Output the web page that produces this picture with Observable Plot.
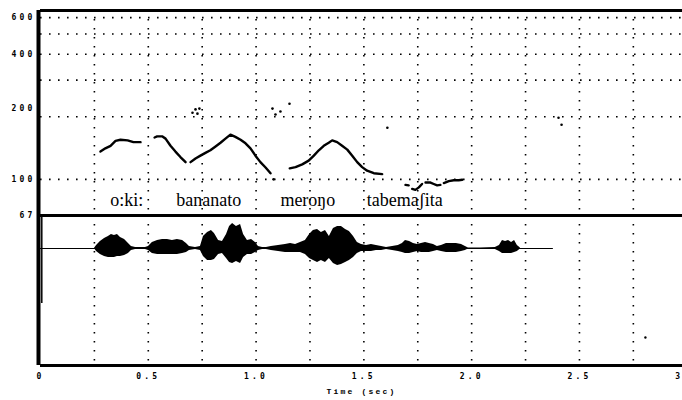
<!DOCTYPE html>
<html><head><meta charset="utf-8">
<script src="https://cdn.jsdelivr.net/npm/d3@7"></script>
<script src="https://cdn.jsdelivr.net/npm/@observablehq/plot@0.6"></script>
<style>
body{margin:0;background:#fff;}
#wrap{position:relative;width:682px;height:400px;overflow:hidden;background:#fff;}
#wrap svg{position:absolute;left:0;top:0;}
g[font-family^="DejaVu Sans Mono"]{letter-spacing:3.2px;}
g[font-family^="Liberation Mono"]{letter-spacing:2.2px;}
</style></head><body><div id="wrap"></div>
<script>
// ---- axes / grid ----
const timeMax = 2.978;                 // right edge of the (cropped) plot, seconds
const timeTicks = [0, 0.5, 1, 1.5, 2, 2.5, 3];
const timeGrid = [0.25, 0.5, 0.75, 1, 1.25, 1.5, 1.75, 2, 2.25, 2.5, 2.75];
const f0Domain = [67, 649];
const f0Labels = [600, 400, 100, 67];
const f0LabelsRaised = [200];
const f0Grid = [100, 200, 300, 400, 500, 600];
const ampDomain = [-117, 33];

// ---- F0 contours (time s, Hz) ----
const f0Oki = [[0.278,136],[0.301,141],[0.325,145],[0.348,153],[0.371,155],[0.404,154],[0.431,151],[0.464,151]];
const f0Bana = [[0.529,159],[0.541,161],[0.564,161],[0.580,157],[0.603,145],[0.626,136],[0.649,128],[0.673,121]];
const f0Nato = [[0.696,121],[0.719,126],[0.742,130],[0.765,134],[0.788,138],[0.812,144],[0.835,150],[0.858,157],[0.881,164],[0.904,160],[0.928,155],[0.951,149],[0.974,141],[0.997,130],[1.020,121],[1.044,114],[1.067,107]];
const f0Merono = [[1.156,113],[1.183,114.5],[1.214,118],[1.244,123],[1.268,130],[1.291,138],[1.314,145],[1.337,150],[1.353,154],[1.376,151],[1.399,145],[1.423,139],[1.446,130],[1.469,121],[1.492,114.5],[1.515,110],[1.546,107],[1.585,106]];
const f0Tabe1 = [[1.693,94],[1.708,93.5]];
const f0Tabe2 = [[1.724,90],[1.739,89],[1.755,91.5],[1.770,95]];
const f0Tabe3 = [[1.786,96.5],[1.809,96.5],[1.824,95],[1.840,93.5],[1.855,94]];
const f0Tabe4 = [[1.871,96],[1.894,98],[1.917,99],[1.940,99],[1.956,99.5]];
const strayT  = [0.705,0.719,0.728,0.737,1.076,1.081,1.090,1.113,1.155,1.609,2.403,2.417];
const strayHz = [209,217,207,219,219,100,205,212,231,177,198,183];

// ---- word labels ----
const words = ["o:ki:", "bananato", "meroŋo", "tabemaʃita"];
const wordTimes = [0.40, 0.78, 1.24, 1.69];
const wordHz = 79;

// ---- waveform envelope (time s, upper, lower) ----
const envT = [0.250,0.260,0.278,0.297,0.315,0.329,0.343,0.357,0.371,0.390,0.408,0.422,0.441,0.464,0.487,
0.501,0.519,0.543,0.566,0.589,0.612,0.635,0.659,0.677,0.691,0.719,
0.742,0.756,0.775,0.793,0.807,0.826,0.844,0.863,0.877,0.891,0.909,0.928,0.942,0.960,0.979,0.997,1.011,1.030,1.048,
1.071,1.104,1.136,1.160,1.183,1.206,1.229,1.248,1.266,1.285,1.303,1.322,1.340,1.359,1.378,1.396,1.415,1.433,1.452,1.470,1.489,1.512,1.535,1.558,1.582,1.605,
1.633,1.660,1.679,1.693,1.712,1.730,1.749,1.767,1.786,1.804,1.823,1.841,1.860,1.883,1.906,1.929,1.953,1.971,1.985,
2.041,2.110,2.129,2.143,2.157,2.171,2.185,2.199,2.212,2.226];
const envHi = [0,3,7,10,12,14,13,14,11,9,5,2,1,1,1,
2,6,8,9,9,8,9,8,5,2,1,
2,12,16,18,15,8,7,14,22,25,22,24,14,8,9,6,2,1,1,
2,3,4,5,4,6,8,14,18,19,16,18,12,20,22,22,19,17,12,6,4,3,4,3,2,1,
2,3,5,8,7,5,4,5,6,5,4,2,3,5,5,5,4,2,0.5,
0.5,1,3,8,7,8,6,8,3,0.5];
const envLo = [0,-3,-6,-8,-9,-9,-9,-8,-8,-7,-5,-2,-1,-1,-1,
-2,-5,-6,-6,-6,-6,-6,-5,-4,-2,-1,
-2,-8,-12,-12,-11,-6,-5,-10,-14,-15,-13,-15,-9,-6,-6,-4,-2,-1,-1,
-2,-3,-4,-4,-4,-4,-6,-10,-12,-14,-12,-14,-10,-15,-17,-16,-14,-12,-9,-5,-3,-3,-3,-2,-2,-1,
-2,-3,-4,-5,-5,-4,-3,-4,-4,-4,-3,-2,-3,-4,-4,-4,-3,-2,-0.5,
-0.5,-1,-3,-5,-5,-5,-5,-4,-3,-0.5];
const waveEnd = 2.379;
const onsetSpike = [{t: 0.006, lo: -55, hi: 33}];
const waveStray = [{t: 2.806, a: -89}];

// ---- build tables ----
const segs = [f0Oki, f0Bana, f0Nato, f0Merono, f0Tabe1, f0Tabe2, f0Tabe3, f0Tabe4];
const f0 = segs.flatMap((s, k) => s.map(([t, hz]) => ({t, hz, seg: k})));
const stray = strayT.map((t, i) => ({t, hz: strayHz[i]}));
const wordRows = words.map((w, i) => ({w, t: wordTimes[i], hz: wordHz}));
const env = envT.map((t, i) => ({t, hi: envHi[i], lo: envLo[i]}));

const tickFont = {fontFamily: "DejaVu Sans Mono", fontWeight: "bold", fontSize: 8, fill: "black"};
const dotted = {stroke: "black", strokeWidth: 1.6, strokeDasharray: "1.6,7.4"};

const topPlot = Plot.plot({
  width: 682, height: 400,
  marginLeft: 40, marginRight: 0, marginTop: 10, marginBottom: 185,
  style: {background: "transparent"},
  x: {domain: [0, timeMax], axis: null, label: null},
  y: {type: "log", domain: f0Domain, axis: null, label: null},
  marks: [
    Plot.ruleY(f0Grid, dotted),
    Plot.ruleX(timeGrid, dotted),
    Plot.line(f0, {x: "t", y: "hz", z: "seg", stroke: "black", strokeWidth: 2.4}),
    Plot.dot(stray, {x: "t", y: "hz", r: 1.3, fill: "black"}),
    Plot.text(wordRows, {x: "t", y: "hz", text: "w", fontFamily: "Liberation Serif, DejaVu Serif, serif", fontSize: 18, fill: "black"}),
    Plot.ruleY([f0Domain[1]], {stroke: "black", strokeWidth: 3}),
    Plot.ruleY([f0Domain[0]], {stroke: "black", strokeWidth: 3}),
    Plot.ruleX([0], {stroke: "black", strokeWidth: 4, dx: -2}),
    Plot.text(f0Labels, {frameAnchor: "left", y: d => d, text: d => String(d), textAnchor: "end", dx: -5, ...tickFont}),
    Plot.text(f0LabelsRaised, {frameAnchor: "left", y: d => d, text: d => String(d), textAnchor: "end", dx: -5, dy: -8, ...tickFont})
  ]
});

const botPlot = Plot.plot({
  width: 682, height: 400,
  marginLeft: 40, marginRight: 0, marginTop: 215, marginBottom: 35,
  style: {background: "transparent"},
  x: {domain: [0, timeMax], label: null},
  y: {domain: ampDomain, axis: null, label: null},
  marks: [
    Plot.ruleX(timeGrid, dotted),
    Plot.areaY(env, {x: "t", y1: "lo", y2: "hi", fill: "black"}),
    Plot.ruleY([0], {x1: 0, x2: waveEnd, stroke: "black", strokeWidth: 1.2}),
    Plot.ruleX(onsetSpike, {x: "t", y1: "lo", y2: "hi", stroke: "black", strokeWidth: 1.5}),
    Plot.dot(waveStray, {x: "t", y: "a", r: 1.2, fill: "black"}),
    Plot.ruleY([ampDomain[0]], {stroke: "black", strokeWidth: 3}),
    Plot.ruleX([0], {stroke: "black", strokeWidth: 4, dx: -2}),
    Plot.axisX(timeTicks, {tickSize: 0, tickPadding: 8, tickFormat: d => d === 0 ? "0" : d.toFixed(1), label: null, ...tickFont}),
    Plot.text(["Time (sec)"], {frameAnchor: "bottom", dy: 28, fontFamily: "Liberation Mono", fontWeight: "bold", fontSize: 8, fill: "black"})
  ]
});

const wrap = document.getElementById("wrap");
wrap.appendChild(botPlot);
wrap.appendChild(topPlot);
</script></body></html>
